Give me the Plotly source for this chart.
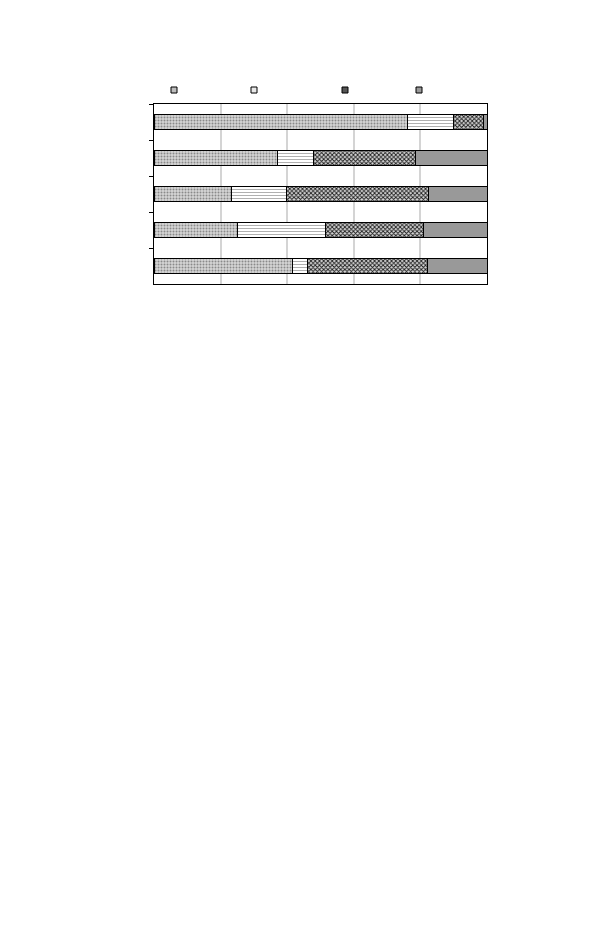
import plotly.graph_objects as go

## DATA (percent share per bar, top bar first)
rows = ["1", "2", "3", "4", "5"]
s1 = [76.2, 37.0, 23.4, 25.2, 41.5]
s2 = [13.7, 10.8, 16.3, 26.2, 4.5]
s3 = [9.1, 30.8, 42.7, 29.6, 36.2]
s4 = [1.0, 21.4, 17.6, 19.0, 17.8]

## STYLES
styles = [
    dict(vals=s1, bg="#d6d6d6", fg="#8a8a8a", shape=".", size=3, sol=0.35, legcol="#bdbdbd"),
    dict(vals=s2, bg="#ffffff", fg="#b0b0b0", shape="-", size=3, sol=0.35, legcol="#e8e8e8"),
    dict(vals=s3, bg="#d8d8d8", fg="#1a1a1a", shape="x", size=3, sol=0.5, legcol="#555555"),
    dict(vals=s4, bg="#999999", fg="#999999", shape="", size=3, sol=0.3, legcol="#999999"),
]
legend_x = [174, 254, 345, 419]   # pixel centre of each legend square

fig = go.Figure()
for i, st in enumerate(styles):
    fig.add_trace(go.Bar(
        y=rows, x=st["vals"], orientation="h", showlegend=False,
        marker=dict(color=st["bg"], line=dict(color="black", width=1),
                    pattern=dict(shape=st["shape"], fgcolor=st["fg"], bgcolor=st["bg"],
                                 size=st["size"], solidity=st["sol"], fillmode="replace")),
    ))
    # legend only entry (small square, no text in reference)
    leg = "legend" if i == 0 else f"legend{i + 1}"
    fig.add_trace(go.Scatter(
        x=[None], y=[None], mode="markers", name="", legend=leg,
        marker=dict(symbol="square", size=6, color=st["legcol"], line=dict(color="black", width=1)),
    ))

# page body adds an 8px offset, so margins are shifted by 8
L, R, T, B = 146, 131, 96, 649
pw = 610 - L - R
ph = 925 - T - B
legends = {}
for i, px in enumerate(legend_x):
    key = "legend" if i == 0 else f"legend{i + 1}"
    legends[key] = dict(x=(px - 154 - 20) / pw, xanchor="left", y=1 + (104 - 90) / ph, yanchor="middle",
                        bgcolor="rgba(0,0,0,0)", borderwidth=0, font=dict(size=8), itemwidth=30)

fig.update_layout(
    width=610, height=925,
    margin=dict(l=L, r=R, t=T, b=B),
    barmode="stack", bargap=0.58,
    plot_bgcolor="white", paper_bgcolor="white",
    showlegend=True,
    **legends,
)
fig.update_xaxes(range=[0, 100], dtick=20, showgrid=True, gridcolor="#d4d4d4", gridwidth=1.5,
                 showticklabels=False, ticks="", zeroline=False,
                 showline=True, linecolor="black", linewidth=1, mirror=True)
fig.update_yaxes(categoryorder="array", categoryarray=rows, autorange="reversed",
                 showticklabels=False, ticks="outside", ticklen=4, tickcolor="black",
                 tickson="boundaries", showgrid=False,
                 showline=True, linecolor="black", linewidth=1, mirror=True)

fig.write_html("out.html")
